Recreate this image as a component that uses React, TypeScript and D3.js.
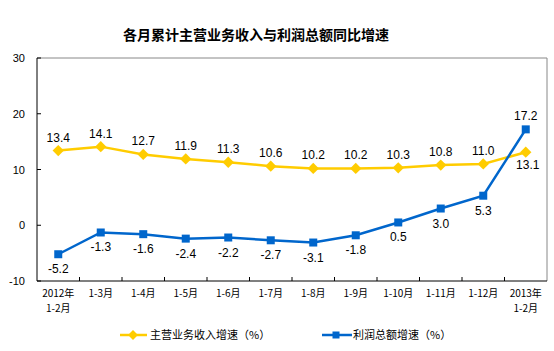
import React from "react";
import * as d3 from "d3";

const categories = [
  "2012年\n1-2月", "1-3月", "1-4月", "1-5月", "1-6月", "1-7月", "1-8月",
  "1-9月", "1-10月", "1-11月", "1-12月", "2013年\n1-2月",
];
const revenueGrowth = [13.4, 14.1, 12.7, 11.9, 11.3, 10.6, 10.2, 10.2, 10.3, 10.8, 11.0, 13.1];
const profitGrowth = [-5.2, -1.3, -1.6, -2.4, -2.2, -2.7, -3.1, -1.8, 0.5, 3.0, 5.3, 17.2];
const yTicks = [-10, 0, 10, 20, 30];

const YELLOW = "#FFCC00";
const BLUE = "#0066CC";
const FONT = "Arial, 'Liberation Sans', 'Noto Sans CJK SC', sans-serif";
const CJK = "'Noto Sans CJK SC', sans-serif";

export default function App() {
  const width = 554;
  const height = 351;
  const left = 37, right = 547, top = 58, bottom = 281;

  const x = d3.scaleBand().domain(categories).range([left, right]).paddingInner(0).paddingOuter(0);
  const cx = (c: string) => (x(c) as number) + x.bandwidth() / 2;
  const y = d3.scaleLinear().domain([-10, 30]).range([bottom, top]);

  const line = d3.line<[number, number]>().x((d) => d[0]).y((d) => d[1]);
  const revPts = categories.map((c, i) => [cx(c), y(revenueGrowth[i])] as [number, number]);
  const proPts = categories.map((c, i) => [cx(c), y(profitGrowth[i])] as [number, number]);

  const boundaries = categories.map((c) => x(c) as number).slice(1);

  return (
    <svg width={width} height={height} style={{ position: "absolute", left: 0, top: 0, background: "#fff" }}
      fontFamily={FONT}>
      <text x={256} y={40} textAnchor="middle" fontSize={14} fontWeight={600} fontFamily={CJK} fill="#000">
        各月累计主营业务收入与利润总额同比增速
      </text>

      {/* frame */}
      <path d={`M${left},${top}H${right}V${bottom}`} fill="none" stroke="#888" strokeWidth={1} />
      <line x1={left} y1={top} x2={left} y2={bottom} stroke="#000" />
      <line x1={left} y1={bottom} x2={right} y2={bottom} stroke="#000" />

      {yTicks.map((t) => (
        <g key={t}>
          <line x1={left} x2={left + 4} y1={y(t)} y2={y(t)} stroke="#000" />
          <text x={left - 12} y={y(t) + 4} textAnchor="end" fontSize={11} fill="#000">{t}</text>
        </g>
      ))}

      {boundaries.map((b, i) => (
        <line key={i} x1={b} x2={b} y1={bottom} y2={bottom - 4} stroke="#000" />
      ))}

      {categories.map((c) =>
        c.split("\n").map((l, k) => (
          <text key={c + k} x={cx(c)} y={bottom + 16 + k * 14.5} textAnchor="middle" fontSize={10}
            fontFamily={CJK} fill="#000">{l}</text>
        ))
      )}

      <path d={line(revPts) || ""} fill="none" stroke={YELLOW} strokeWidth={2.5} />
      {revPts.map((p, i) => (
        <rect key={i} x={p[0] - 4} y={p[1] - 4} width={8} height={8} fill={YELLOW}
          transform={`rotate(45 ${p[0]} ${p[1]})`} />
      ))}
      <path d={line(proPts) || ""} fill="none" stroke={BLUE} strokeWidth={2.5} />
      {proPts.map((p, i) => (
        <rect key={i} x={p[0] - 4} y={p[1] - 4} width={8} height={8} fill={BLUE} />
      ))}

      {revPts.map((p, i) => {
        const last = i === revPts.length - 1;
        return (
          <text key={i} x={p[0] + (last ? 2 : 0)} y={last ? p[1] + 17 : p[1] - 9} textAnchor="middle" fontSize={12} fill="#000">
            {revenueGrowth[i].toFixed(1)}
          </text>
        );
      })}
      {proPts.map((p, i) => {
        const last = i === proPts.length - 1;
        return (
          <text key={i} x={p[0]} y={last ? p[1] - 9 : p[1] + 19} textAnchor="middle" fontSize={12} fill="#000">
            {profitGrowth[i].toFixed(1)}
          </text>
        );
      })}

      {/* legend */}
      <g transform="translate(120,335)">
        <line x1={0} x2={27} y1={0} y2={0} stroke={YELLOW} strokeWidth={2.5} />
        <rect x={9.5} y={-3.5} width={7} height={7} fill={YELLOW} transform="rotate(45 13 0)" />
        <text x={30} y={4} fontSize={11} fontFamily={CJK} fill="#000">主营业务收入增速（%）</text>
      </g>
      <g transform="translate(322,335)">
        <line x1={0} x2={30} y1={0} y2={0} stroke={BLUE} strokeWidth={2.5} />
        <rect x={10.5} y={-3.5} width={7} height={7} fill={BLUE} />
        <text x={31} y={4} fontSize={11} fontFamily={CJK} fill="#000">利润总额增速（%）</text>
      </g>
    </svg>
  );
}
